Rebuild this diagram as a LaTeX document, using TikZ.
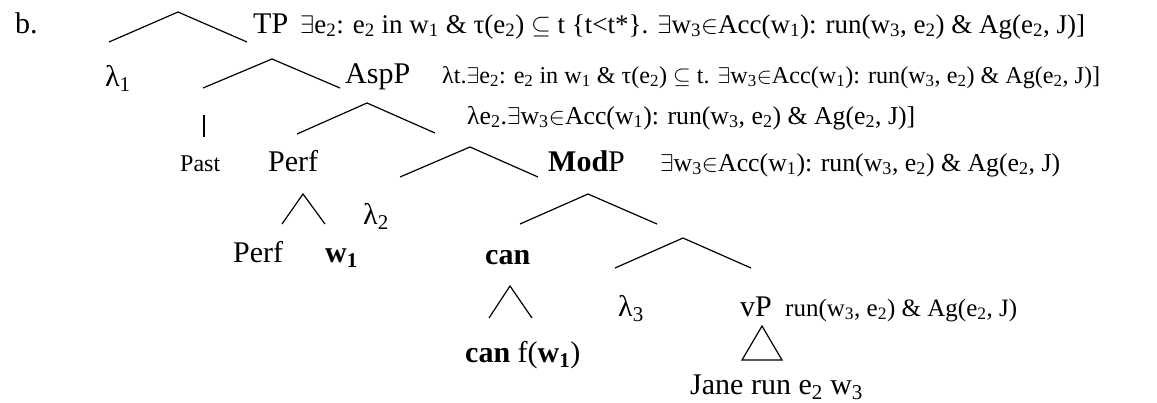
\documentclass[tikz,border=0pt]{standalone}
\usepackage{fontspec}
\setmainfont{Liberation Serif}
\usepackage{graphicx}
\newcommand\sub[1]{\textsubscript{#1}}
\newcommand\fitto[2]{\resizebox{#1}{!}{#2}}
\newcommand\tailtext{$\exists$w\sub{3}$\in$Acc(w\sub{1}): run(w\sub{3}, e\sub{2}) \& Ag(e\sub{2}, J)}
\begin{document}
\begin{tikzpicture}[x=1pt,y=-1pt,
  br/.style={line width=1.2pt},
  lab/.style={font=\fontsize{30}{32}\selectfont, inner sep=0pt, anchor=base west},
  smalllab/.style={font=\fontsize{24}{26}\selectfont, inner sep=0pt, anchor=base west},
  ann/.style={font=\fontsize{22}{24}\selectfont, inner sep=0pt, anchor=base west}]
\useasboundingbox (0,0) rectangle (1157,402);
% labels
\node[lab] (b) at (15,33) {b.};
\node[lab] (tp) at (253,33) {TP};
\node[lab] (l1) at (105,86) {λ\sub{1}};
\node[lab] (asp) at (345,83) {AspP};
\node[smalllab] (past) at (180,171) {Past};
\node[lab] (perf) at (268,171) {Perf};
\node[lab] (modp) at (548,171) {\textbf{Mod}P};
\node[lab] (l2) at (363,224) {λ\sub{2}};
\node[lab] (perfb) at (233,262) {Perf};
\node[lab] (w1) at (325,262) {\textbf{w\sub{1}}};
\node[lab] (can) at (485,264) {\textbf{can}};
\node[lab] (l3) at (618,316) {λ\sub{3}};
\node[lab] (vp) at (740,316) {vP};
\node[lab] (canf) at (465,362) {\textbf{can} f(\textbf{w\sub{1}})};
\node[lab] (jane) at (690,394) {Jane run e\sub{2} w\sub{3}};
% annotations
\node[ann] (a1) at (300,33) {\fitto{785pt}{$\exists$e\sub{2}: e\sub{2} in w\sub{1} \& τ(e\sub{2}) $\subseteq$ t \{t<t*\}. \tailtext]}};
\node[ann] (a2) at (442,83) {\fitto{658pt}{λt.$\exists$e\sub{2}: e\sub{2} in w\sub{1} \& τ(e\sub{2}) $\subseteq$ t. \tailtext]}};
\node[ann] (a3) at (467,124) {\fitto{448pt}{λe\sub{2}.\tailtext]}};
\node[ann] (a4) at (660,171) {\fitto{400pt}{\tailtext}};
\node[ann] (a5) at (785,316) {\fitto{232pt}{run(w\sub{3}, e\sub{2}) \& Ag(e\sub{2}, J)}};
% branch points
\coordinate (t1l) at (109,42); \coordinate (t1a) at (178,12); \coordinate (t1r) at (247,42);
\coordinate (t2l) at (203,88); \coordinate (t2a) at (272,59); \coordinate (t2r) at (340,88);
\coordinate (v1) at (204,115); \coordinate (v2) at (204,137);
\coordinate (t3l) at (297,134); \coordinate (t3a) at (367,103); \coordinate (t3r) at (435,133);
\coordinate (t4l) at (400,177); \coordinate (t4a) at (470,147); \coordinate (t4r) at (538,177);
\coordinate (p1l) at (282,224); \coordinate (p1a) at (303,194); \coordinate (p1r) at (325,224);
\coordinate (t5l) at (520,224); \coordinate (t5a) at (588,194); \coordinate (t5r) at (657,224);
\coordinate (t6l) at (615,268); \coordinate (t6a) at (683,238); \coordinate (t6r) at (751,268);
\coordinate (c1l) at (489,318); \coordinate (c1a) at (510,286); \coordinate (c1r) at (532,318);
\coordinate (vl) at (742,360); \coordinate (va) at (762,326); \coordinate (vr) at (782,360);
% connectors
\draw[br] (t1l) -- (t1a) -- (t1r);
\draw[br] (t2l) -- (t2a) -- (t2r);
\draw[br] (v1) -- (v2);
\draw[br] (t3l) -- (t3a) -- (t3r);
\draw[br] (t4l) -- (t4a) -- (t4r);
\draw[br] (p1l) -- (p1a) -- (p1r);
\draw[br] (t5l) -- (t5a) -- (t5r);
\draw[br] (t6l) -- (t6a) -- (t6r);
\draw[br] (c1l) -- (c1a) -- (c1r);
\draw[br] (vl) -- (va) -- (vr) -- cycle;
\end{tikzpicture}
\end{document}
